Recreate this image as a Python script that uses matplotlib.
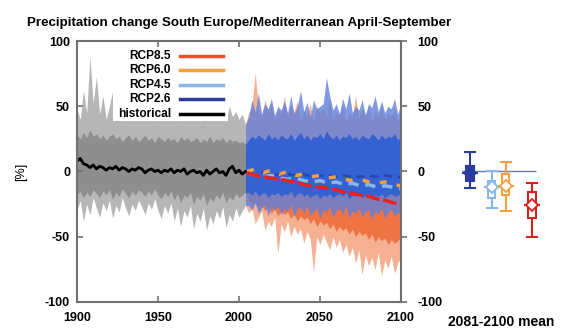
import numpy as np
import matplotlib.pyplot as plt
from matplotlib.patches import Rectangle
from matplotlib.lines import Line2D

plt.rcParams['font.family'] = ['Liberation Sans', 'DejaVu Sans']
plt.rcParams['font.weight'] = 'bold'
plt.rcParams['axes.unicode_minus'] = False

# historical ensemble, 2-year steps
hist_years = np.arange(1900, 2005, 2)
hist_mean = [8, 10, 6, 5, 3, 5, 2, 4, 3, 1, 3, 2, 4, 1, 3, 2, 0, 2, 1, 3, 2, -1, 1, 2, 0, 1,
             -1, 1, 0, 2, -1, 1, 0, 2, -2, 0, 1, -1, 0, -3, 1, -2, 0, 2, -1, 0, -3, 2, 4, -1, 1, -2, 0]
hist_hi = [48, 40, 62, 45, 88, 52, 73, 44, 58, 40, 50, 62, 42, 55, 38, 48, 60, 44, 52, 40, 47, 58, 42, 50, 38, 55,
           45, 40, 52, 43, 48, 38, 56, 42, 50, 40, 45, 52, 38, 47, 42, 55, 40, 48, 44, 52, 38, 50, 42, 46, 40, 44, 36]
hist_core_hi = [28, 25, 30, 26, 32, 27, 29, 25, 28, 24, 27, 29, 25, 27, 23, 26, 28, 24, 27, 23, 25, 28, 24, 26, 22, 27,
                25, 23, 26, 24, 25, 22, 27, 24, 26, 23, 24, 26, 22, 25, 23, 27, 22, 25, 24, 26, 22, 25, 23, 24, 22, 23, 21]
hist_core_lo = [-18, -15, -20, -16, -19, -14, -17, -20, -15, -18, -14, -21, -16, -19, -13, -17, -20, -15, -18, -14, -16, -19, -15, -18, -13, -18,
                -21, -16, -19, -15, -22, -17, -24, -18, -20, -16, -25, -19, -22, -17, -26, -20, -23, -18, -21, -16, -24, -19, -22, -17, -20, -18, -16]
hist_lo = [-30, -22, -38, -25, -33, -20, -28, -35, -24, -30, -22, -36, -26, -31, -20, -28, -34, -25, -30, -22, -27, -33, -24, -29, -21, -30,
           -36, -26, -32, -24, -38, -28, -42, -30, -35, -26, -44, -32, -38, -28, -45, -34, -40, -30, -36, -27, -43, -33, -38, -28, -35, -30, -26]

# scenario ensembles, 2-year steps
fut_years = np.arange(2006, 2101, 2)
rcp85_hi = [45, 50, 76, 48, 42, 55, 46, 52, 40, 48, 44, 58, 42, 50, 46, 54, 40, 47, 43, 52, 38, 50, 45, 48,
            42, 55, 40, 46, 44, 52, 38, 45, 42, 58, 40, 48, 44, 50, 38, 46, 42, 52, 40, 45, 43, 48, 38, 44]
rcp85_lo = [-32, -28, -40, -35, -30, -45, -38, -42, -35, -63, -40, -46, -38, -50, -42, -48, -44, -55, -46, -52, -77, -50, -56, -48,
            -54, -60, -50, -58, -52, -62, -56, -65, -58, -70, -60, -79, -64, -72, -66, -75, -62, -80, -68, -74, -65, -78, -70, -66]
rcp85_core_lo = [-22, -25, -24, -28, -26, -30, -27, -32, -28, -34, -30, -33, -31, -36, -32, -38, -34, -37, -35, -40, -36, -42, -38, -41,
                 -39, -44, -40, -46, -42, -45, -43, -48, -44, -50, -46, -49, -47, -52, -48, -54, -50, -53, -51, -56, -52, -55, -53, -50]
rcp26_hi = [42, 55, 46, 60, 44, 52, 48, 56, 43, 50, 47, 54, 45, 58, 44, 50, 62, 46, 53, 42, 55, 48, 50, 52,
            72, 58, 47, 52, 44, 56, 48, 60, 45, 50, 47, 55, 43, 52, 49, 58, 46, 54, 45, 50, 48, 56, 44, 52]
rcp26_core_hi = [24, 27, 25, 28, 26, 24, 29, 25, 27, 24, 28, 26, 25, 29, 24, 27, 30, 25, 28, 24, 27, 26, 29, 25,
                 31, 27, 25, 28, 24, 27, 26, 29, 25, 27, 24, 28, 26, 25, 29, 27, 24, 28, 25, 27, 26, 29, 24, 27]
rcp26_core_lo = [-16, -18, -15, -19, -17, -16, -20, -17, -18, -16, -19, -17, -18, -15, -20, -17, -16, -19, -17, -20, -18, -17, -21, -18,
                 -19, -17, -20, -18, -17, -19, -16, -21, -18, -19, -17, -20, -18, -17, -21, -18, -19, -17, -20, -18, -17, -19, -18, -17]
rcp26_lo = [-26, -30, -24, -32, -28, -25, -34, -27, -30, -26, -33, -28, -31, -25, -35, -29, -27, -32, -26, -34, -30, -28, -36, -29,
            -31, -27, -35, -30, -28, -33, -26, -36, -30, -32, -28, -35, -31, -29, -37, -30, -33, -28, -36, -31, -29, -34, -32, -30]

# multi-model means, 5-year steps
mean_years = np.arange(2005, 2101, 5)
rcp26_mean = [-1, -2, -1, -3, -2, -2, -3, -2, -4, -3, -3, -4, -3, -4, -4, -3, -4, -3, -4, -4]
rcp45_mean = [-1, -3, -4, -3, -5, -6, -5, -7, -8, -7, -9, -8, -10, -9, -11, -10, -12, -11, -12, -13]
rcp60_mean = [0, 2, -1, 1, -2, 0, -3, -2, -4, -3, -5, -4, -6, -7, -6, -8, -9, -8, -10, -11]
rcp85_mean = [-1, -3, -4, -5, -6, -7, -8, -10, -11, -12, -13, -14, -16, -17, -18, -19, -21, -22, -24, -25]

# 2081-2100 mean spread per scenario
scenarios = ['RCP2.6', 'RCP4.5', 'RCP6.0', 'RCP8.5']
box_whislo = [-13, -28, -30, -50]
box_q1 = [-7, -20, -18, -36]
box_med = [-1, -12, -11, -26]
box_q3 = [4, -7, -2, -16]
box_whishi = [15, 0, 7, -9]

legend_labels = ['RCP8.5', 'RCP6.0', 'RCP4.5', 'RCP2.6', 'historical']

c85, c60, c45, c26 = '#e8502e', '#f5a040', '#8ab6ea', '#2c3c9c'
c85_box = '#d8201c'
c26_ens = '#3462d2'
spine_col = '#707070'


def joined(hist_vals, fut_vals):
    # future band starts at the last historical year so both bands touch
    return np.r_[hist_years[-1], fut_years], np.r_[hist_vals[-1], fut_vals]


fig = plt.figure(figsize=(5.69, 3.28), dpi=100)
ax = fig.add_axes([0.1353, 0.0793, 0.5694, 0.7957])

# ensemble spread: light outer range, solid core
ax.fill_between(hist_years, hist_lo, hist_hi, color='#b6b6b6', lw=0)
ax.fill_between(hist_years, hist_core_lo, hist_core_hi, color='#8e8e8e', lw=0)
x, lo = joined(hist_lo, rcp85_lo)
_, hi = joined(hist_hi, rcp85_hi)
ax.fill_between(x, lo, hi, color='#f6b092', lw=0)
x, lo = joined(hist_core_lo, rcp85_core_lo)
_, hi = joined(hist_core_hi, rcp26_core_hi)
ax.fill_between(x, lo, hi, color='#ef7444', lw=0)
x, lo = joined(hist_lo, rcp26_lo)
_, hi = joined(hist_hi, rcp26_hi)
ax.fill_between(x, lo, hi, color='#5f80dc', alpha=0.8, lw=0)
x, lo = joined(hist_core_lo, rcp26_core_lo)
_, hi = joined(hist_core_hi, rcp26_core_hi)
ax.fill_between(x, lo, hi, color=c26_ens, lw=0)

# means
ax.plot(hist_years, hist_mean, color='black', lw=2)
ax.plot(mean_years, rcp26_mean, color='#2848b8', lw=2, ls=(0, (3, 2)))
ax.plot(mean_years, rcp45_mean, color=c45, lw=2.5, ls=(0, (3, 2)))
ax.plot(mean_years, rcp60_mean, color=c60, lw=2.5, ls=(0, (2, 3)))
ax.plot(mean_years, rcp85_mean, color='#e82020', lw=2.5, ls=(0, (4, 1)))

ax.set_xlim(1900, 2100)
ax.set_ylim(-100, 100)
ax.set_xticks([1900, 1950, 2000, 2050, 2100])
ax.set_yticks([-100, -50, 0, 50, 100])
ax.tick_params(direction='in', length=4, width=1.2, color=spine_col, labelsize=9,
               top=True, right=False)
ax.tick_params(axis='y', pad=5)
ax.tick_params(axis='x', pad=7)
for s in ax.spines.values():
    s.set_color(spine_col)
    s.set_linewidth(1.5)
ax.set_ylabel('[%]', fontsize=9, labelpad=13)
ax.set_title('Precipitation change South Europe/Mediterranean April-September',
             fontsize=9.6, fontweight='bold', pad=11)

# right-hand y scale
axr = ax.twinx()
axr.set_ylim(-100, 100)
axr.set_yticks([-100, -50, 0, 50, 100])
axr.tick_params(direction='out', length=4, width=1.2, color=spine_col, labelsize=9, pad=8)
for s in axr.spines.values():
    s.set_visible(False)

# key box, text right-aligned with the line sample after it
ax.add_patch(Rectangle((0.111, 0.694), 0.355, 0.283, transform=ax.transAxes,
                       facecolor='white', edgecolor='none', zorder=5))
key_colors = [c85, c60, c45, c26, 'black']
key_rows = [0.943, 0.889, 0.831, 0.778, 0.720]
for lab, col, yk in zip(legend_labels, key_colors, key_rows):
    ax.text(0.290, yk, lab, transform=ax.transAxes, ha='right', va='center',
            fontsize=8.6, zorder=6)
    ax.add_line(Line2D([0.318, 0.451], [yk, yk], transform=ax.transAxes,
                       color=col, lw=2.5, zorder=6))

# side panel with 2081-2100 box plots
ax2 = fig.add_axes([0.773, 0.0793, 0.227, 0.7957])
ax2.set_xlim(0, 4.6)
ax2.set_ylim(-100, 100)
ax2.axis('off')
positions = [1.07, 1.85, 2.35, 3.28]
colors = [c26, c45, c60, c85_box]
ax2.hlines(0, 0.78, 3.42, color='#6a7fb0', lw=1)
for i in range(4):
    st = [dict(whislo=box_whislo[i], q1=box_q1[i], med=box_med[i], q3=box_q3[i],
               whishi=box_whishi[i], label=scenarios[i])]
    col = colors[i]
    ax2.bxp(st, positions=[positions[i]], widths=0.26, showfliers=False, patch_artist=True,
            boxprops=dict(facecolor=col if i == 0 else 'white', edgecolor=col, lw=1.5),
            whiskerprops=dict(color=col, lw=1.5), capprops=dict(color=col, lw=1.5),
            medianprops=dict(color=col, lw=0), capwidths=0.36)
    ax2.hlines(box_med[i], positions[i] - 0.28, positions[i] + 0.28, color=col, lw=1.5)
    ax2.plot(positions[i], box_med[i], marker='D', ms=6, color=col if i == 0 else 'white',
             mec=col, mew=1.3)
ax2.text(2.2, -110, '2081-2100 mean', ha='center', va='top', fontsize=10)

fig.savefig('out.png', dpi=100)
